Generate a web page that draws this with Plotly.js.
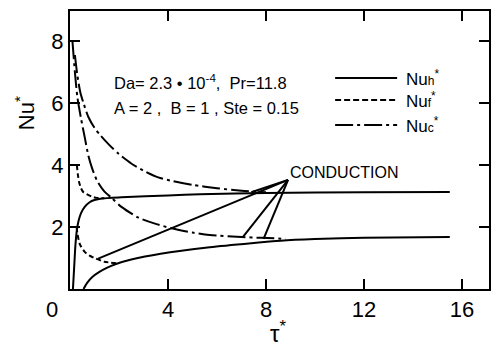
<!DOCTYPE html>
<html>
<head>
<meta charset="utf-8">
<script src="https://cdn.plot.ly/plotly-3.0.1.min.js"></script>
<style>html,body{margin:0;padding:0;background:#fff;}#chart{width:493px;height:350px;}</style>
</head>
<body>
<div id="chart"></div>
<script>
// ---- data ----
const tauNuhUpper = [0.12, 0.17, 0.22, 0.28, 0.35, 0.45, 0.6, 0.8, 1.0, 1.3, 2.1, 4.0, 5.3, 8.0, 12.0, 15.5];
const nuhUpper    = [0.0, 0.7, 1.4, 1.9, 2.2, 2.45, 2.65, 2.8, 2.87, 2.92, 2.96, 3.02, 3.06, 3.1, 3.12, 3.13];

const tauNufUpper = [0.28, 0.32, 0.37, 0.45, 0.55, 0.7, 0.9, 1.1, 1.4];
const nufUpper    = [4.0, 3.7, 3.45, 3.25, 3.12, 3.05, 2.98, 2.94, 2.93];

const tauNucUpper = [0.2, 0.3, 0.42, 0.55, 0.75, 1.0, 1.25, 1.6, 2.0, 2.5, 3.0, 3.6, 4.2, 5.0, 6.0, 7.0, 8.0];
const nucUpper    = [7.55, 6.9, 6.35, 6.0, 5.55, 5.2, 4.95, 4.65, 4.35, 4.05, 3.82, 3.6, 3.48, 3.36, 3.25, 3.17, 3.12];

const tauNuhLower = [0.55, 0.7, 0.9, 1.2, 1.5, 1.85, 2.5, 3.7, 5.7, 7.4, 8.6, 10.0, 12.0, 15.5];
const nuhLower    = [0.0, 0.2, 0.38, 0.55, 0.68, 0.8, 0.95, 1.14, 1.35, 1.48, 1.56, 1.61, 1.65, 1.68];

const tauNufLower = [0.27, 0.3, 0.4, 0.6, 0.8, 1.0, 1.4, 1.95];
const nufLower    = [2.0, 1.8, 1.45, 1.2, 1.08, 1.0, 0.88, 0.83];

const tauNucLower = [0.1, 0.2, 0.3, 0.45, 0.6, 0.75, 0.9, 1.1, 1.4, 1.7, 2.1, 2.8, 3.5, 4.1, 5.0, 5.7, 7.0, 7.8, 8.8];
const nucLower    = [8.0, 7.0, 6.2, 5.5, 4.9, 4.3, 3.9, 3.5, 3.15, 2.94, 2.65, 2.3, 2.1, 1.97, 1.82, 1.74, 1.68, 1.65, 1.62];

// CONDUCTION leader lines: tip and end points
const leaderTip  = [8.9, 3.52];
const leaderEndX = [1.15, 7.4, 7.06, 7.9];
const leaderEndY = [0.98, 3.12, 1.68, 1.62];

const xTickVals = [4, 8, 12, 16];
const xTickText = ['4', '8', '12', '16'];
const yTickVals = [2, 4, 6, 8];
const yTickText = ['2', '4', '6', '8'];
const originLabel = '0';

const legendNames = ['Nu<span style="font-size:12px">h</span><sup>*</sup>',
                     'Nu<span style="font-size:12px">f</span><sup>*</sup>',
                     'Nu<span style="font-size:12px">c</span><sup>*</sup>'];
const paramLine1 = 'Da= 2.3 • 10<sup>-4</sup>,  Pr=11.8';
const paramLine2 = 'A = 2 ,  B = 1 , Ste = 0.15';
const conductionLabel = 'CONDUCTION';

// ---- styles ----
const FONT = 'Liberation Sans, Arial, sans-serif';
const solid = {color: '#000', width: 2, dash: 'solid', shape: 'spline', smoothing: 0.7};
const dashed = {color: '#000', width: 2, dash: '5px,3px', shape: 'spline', smoothing: 0.7};
const dashdot = {color: '#000', width: 2, dash: '18px,4px,3px,4px', shape: 'spline', smoothing: 0.7};

const traces = [
  {x: tauNuhUpper, y: nuhUpper, mode: 'lines', line: solid},
  {x: tauNufUpper, y: nufUpper, mode: 'lines', line: dashed},
  {x: tauNucUpper, y: nucUpper, mode: 'lines', line: dashdot},
  {x: tauNuhLower, y: nuhLower, mode: 'lines', line: solid},
  {x: tauNufLower, y: nufLower, mode: 'lines', line: dashed},
  {x: tauNucLower, y: nucLower, mode: 'lines', line: dashdot}
];
for (let i = 0; i < leaderEndX.length; i++) {
  traces.push({x: [leaderEndX[i], leaderTip[0]], y: [leaderEndY[i], leaderTip[1]],
               mode: 'lines', line: {color: '#000', width: 2}});
}

const legendDash = ['solid', '6px,3px', '18px,4px,3px,4px'];
const legendY = [6.81, 6.1, 5.29];
const shapes = [];
const annotations = [];
for (let i = 0; i < 3; i++) {
  shapes.push({type: 'line', xref: 'x', yref: 'y', x0: 10.82, x1: 13.35, y0: legendY[i], y1: legendY[i],
               line: {color: '#000', width: 2, dash: legendDash[i]}});
  annotations.push({xref: 'x', yref: 'y', x: 13.62, y: legendY[i], text: legendNames[i], showarrow: false,
                    xanchor: 'left', yanchor: 'middle', font: {family: FONT, size: 17, color: '#000'}});
}
annotations.push(
  {xref: 'x', yref: 'y', x: 1.7, y: 6.68, text: paramLine1, showarrow: false, xanchor: 'left', yanchor: 'middle',
   font: {family: FONT, size: 16.5, color: '#000'}},
  {xref: 'x', yref: 'y', x: 1.7, y: 5.84, text: paramLine2, showarrow: false, xanchor: 'left', yanchor: 'middle',
   font: {family: FONT, size: 16.5, color: '#000'}},
  {xref: 'x', yref: 'y', x: 8.9, y: 3.75, text: conductionLabel, showarrow: false, xanchor: 'left', yanchor: 'middle',
   font: {family: FONT, size: 16, color: '#000'}},
  {xref: 'paper', yref: 'paper', x: -0.043, y: -0.075, text: originLabel, showarrow: false, xanchor: 'center', yanchor: 'middle',
   font: {family: FONT, size: 22, color: '#000'}},
  {xref: 'paper', yref: 'paper', x: -0.107, y: 0.633, text: 'Nu<sup>*</sup>', textangle: -90, showarrow: false,
   xanchor: 'center', yanchor: 'middle', font: {family: FONT, size: 22, color: '#000'}},
  {xref: 'paper', yref: 'paper', x: 0.496, y: -0.155, text: 'τ<sup>*</sup>', showarrow: false,
   xanchor: 'center', yanchor: 'middle', font: {family: FONT, size: 24, color: '#000'}}
);

const axisCommon = {
  showline: true, linecolor: '#000', linewidth: 2, mirror: 'ticks',
  ticks: 'inside', ticklen: 10, tickwidth: 2, tickcolor: '#000',
  showgrid: false, zeroline: false, fixedrange: true,
  tickfont: {family: FONT, size: 22, color: '#000'}
};

const layout = {
  width: 493, height: 350,
  margin: {l: 70, r: 4, t: 11, b: 61},
  paper_bgcolor: '#fff', plot_bgcolor: '#fff',
  showlegend: false,
  xaxis: Object.assign({}, axisCommon, {range: [0, 17.1], tickvals: xTickVals, ticktext: xTickText}),
  yaxis: Object.assign({}, axisCommon, {range: [0, 8.97], tickvals: yTickVals, ticktext: yTickText}),
  shapes: shapes,
  annotations: annotations
};

Plotly.newPlot('chart', traces, layout, {staticPlot: true, displayModeBar: false});
</script>
</body>
</html>
